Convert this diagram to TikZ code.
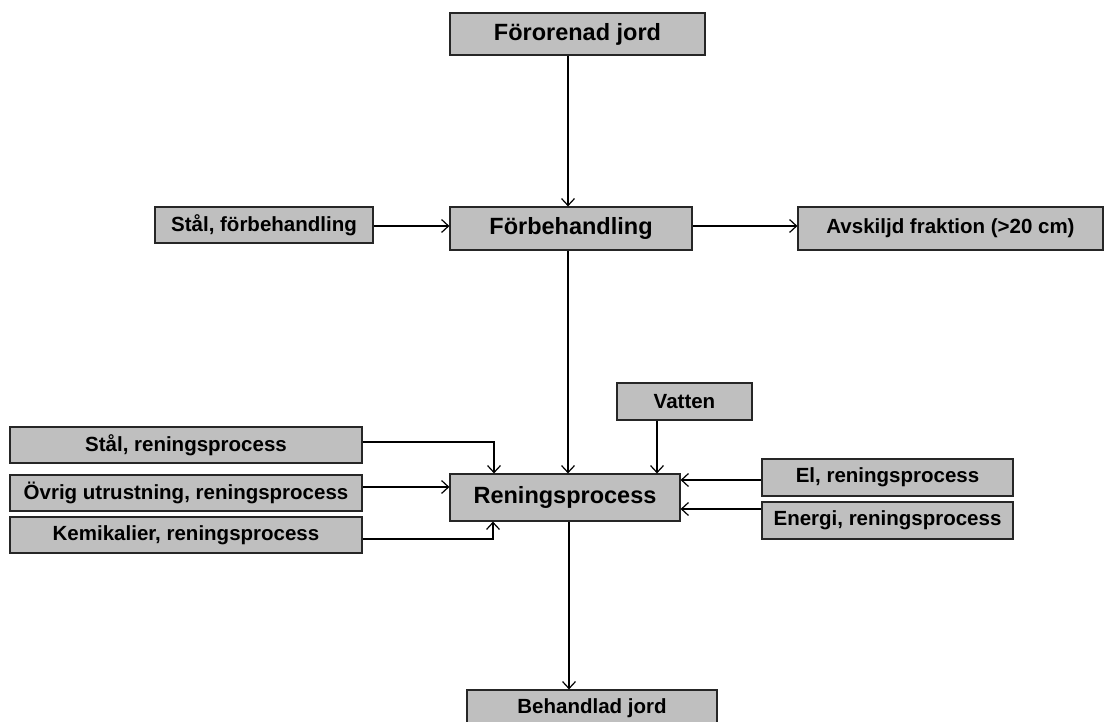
\documentclass[tikz,border=0pt]{standalone}
\usepackage{fontspec}
\setmainfont{Liberation Sans}
\usetikzlibrary{arrows.meta}
\begin{document}
\begin{tikzpicture}[x=1pt,y=-1pt,
  box/.style={draw=black!85,line width=1.2pt,fill=black!25,inner sep=0pt,
    font=\fontsize{20.5}{24}\selectfont\bfseries},
  bigbox/.style={box,font=\fontsize{23.5}{28}\selectfont\bfseries},
  arr/.style={line width=1.2pt,-{Straight Barb[length=7pt,width=13pt,line width=1.2pt]}},
  ln/.style={line width=1.2pt}]
\useasboundingbox (0,0) rectangle (1106,722);
% main column
\node[bigbox,minimum width=255pt,minimum height=42pt] (top) at (577.5,34) {Förorenad jord};
\node[bigbox,minimum width=242pt,minimum height=43pt] (forb) at (571,228.5) {Förbehandling};
\node[bigbox,minimum width=230pt,minimum height=47pt] (ren) at (565,497.5) {Reningsprocess};
\node[box,minimum width=250pt,minimum height=36pt] (beh) at (592,708) {Behandlad jord};
% side inputs and outputs
\node[box,minimum width=218pt,minimum height=36pt] (stalf) at (264,225) {Stål, förbehandling};
\node[box,minimum width=305pt,minimum height=43pt] (avsk) at (950.5,228.5) {Avskiljd fraktion (>20 cm)};
\node[box,minimum width=352pt,minimum height=36pt] (stalr) at (186,445) {Stål, reningsprocess};
\node[box,minimum width=352pt,minimum height=36pt] (ovrig) at (186,493) {Övrig utrustning, reningsprocess};
\node[box,minimum width=352pt,minimum height=36pt] (kemi) at (186,535) {Kemikalier, reningsprocess};
\node[box,minimum width=135pt,minimum height=37pt] (vatten) at (684.5,401.5) {Vatten};
\node[box,minimum width=251pt,minimum height=37pt] (el) at (887.5,477.5) {El, reningsprocess};
\node[box,minimum width=251pt,minimum height=37pt] (energi) at (887.5,520.5) {Energi, reningsprocess};
% guide coordinates for the vertical runs
\coordinate (cx) at (568,0);
\coordinate (cy) at (569,0);
\coordinate (sx) at (494,0);
\coordinate (vx) at (657,0);
% connectors
\draw[arr] (top.south -| cx) -- (forb.north -| cx);
\draw[arr] (forb.south -| cx) -- (ren.north -| cx);
\draw[arr] (ren.south -| cy) -- (beh.north -| cy);
\draw[arr] ([yshift=-1pt]stalf.east) -- ([yshift=-1pt]stalf.east -| forb.west);
\draw[arr] ([yshift=2.5pt]forb.east) -- ([yshift=2.5pt]forb.east -| avsk.west);
\draw[arr] ([yshift=3pt]stalr.east) -| (ren.north -| sx);
\draw[arr] ([yshift=6pt]ovrig.east) -- ([yshift=6pt]ovrig.east -| ren.west);
\draw[arr] ([yshift=-4pt]kemi.east) -| ([xshift=-1pt]ren.south -| sx);
\draw[arr] (vatten.south -| vx) -- (ren.north -| vx);
\draw[arr] ([yshift=-2.5pt]el.west) -- ([yshift=-2.5pt]el.west -| ren.east);
\draw[arr] ([yshift=11.5pt]energi.west) -- ([yshift=11.5pt]energi.west -| ren.east);
\end{tikzpicture}
\end{document}
